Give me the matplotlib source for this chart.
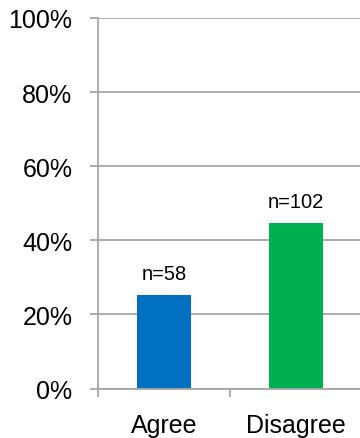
import matplotlib
matplotlib.use("Agg")
import matplotlib.pyplot as plt
from matplotlib.ticker import FuncFormatter, FixedLocator

plt.rcParams['font.family'] = ['Liberation Sans', 'DejaVu Sans']

categories = ["Agree", "Disagree"]
shares = [25.3, 44.8]
counts = [58, 102]
bar_colors = ["#0070C0", "#00B050"]
y_ticks = [0, 20, 40, 60, 80, 100]

W, H, DPI = 360, 439, 100
fig = plt.figure(figsize=(W / DPI, H / DPI), dpi=DPI)
ax = fig.add_axes([98 / W, (H - 389.5) / H, (362 - 98) / W, (389.5 - 19) / H])

grid_color = "#A6A6A6"
x = list(range(len(categories)))
bars = ax.bar(x, shares, width=0.41, color=bar_colors, zorder=3)

for xi, val, n in zip(x, shares, counts):
    ax.annotate(f"n={n}", xy=(xi, val), xytext=(0, 11), textcoords="offset points",
                ha="center", va="baseline", fontsize=14.5, color="black")

ax.set_xlim(-0.5, len(categories) - 0.5)
ax.set_ylim(0, 100)
ax.set_yticks(y_ticks)
ax.yaxis.set_major_formatter(FuncFormatter(lambda v, _: f"{v:.0f}%"))
ax.yaxis.grid(True, color=grid_color, linewidth=1.3, zorder=0)

ax.set_xticks(x)
ax.set_xticklabels(categories)
ax.xaxis.set_minor_locator(FixedLocator([-0.5, 0.5, 1.5]))
ax.tick_params(axis="x", which="major", length=0, pad=18, labelsize=18)
ax.tick_params(axis="x", which="minor", length=5.5, width=1.3, color=grid_color)
ax.tick_params(axis="y", length=5.5, width=1.3, color=grid_color, pad=13, labelsize=18)

for side in ("top", "right"):
    ax.spines[side].set_visible(False)
for side in ("left", "bottom"):
    ax.spines[side].set_color(grid_color)
    ax.spines[side].set_linewidth(1.3)
    ax.spines[side].set_zorder(4)

fig.savefig("out.png", dpi=DPI)
